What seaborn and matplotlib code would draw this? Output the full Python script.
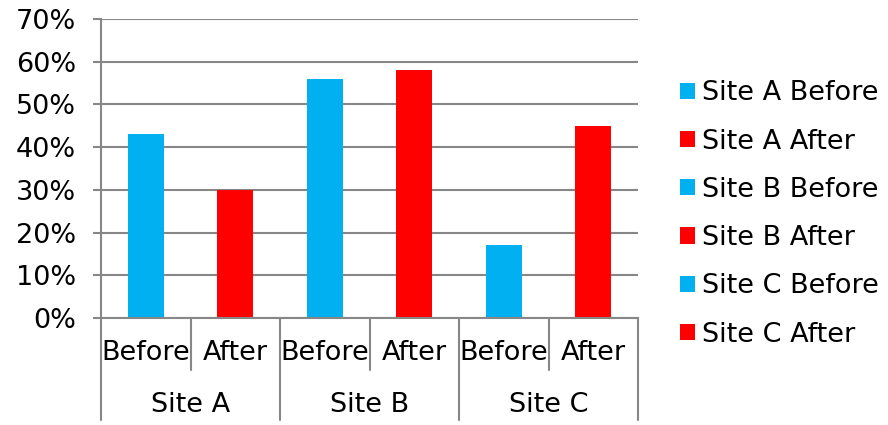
import numpy as np
import pandas as pd
import seaborn as sns
import matplotlib
matplotlib.use("Agg")
import matplotlib.pyplot as plt
import matplotlib.transforms as mtransforms
from matplotlib.ticker import PercentFormatter

sites = ["Site A", "Site B", "Site C"]
phases = ["Before", "After"]
values = [0.43, 0.30, 0.56, 0.58, 0.17, 0.45]
series_labels = [f"{s} {p}" for s in sites for p in phases]
phase_colors = {"Before": "#00B0F0", "After": "#FF0000"}
y_ticks = [0.0, 0.1, 0.2, 0.3, 0.4, 0.5, 0.6, 0.7]

sns.set_style("white")
plt.rcParams["font.family"] = ["DejaVu Sans"]
plt.rcParams["text.color"] = "black"
FS = 19.5
GREY = "#878787"

data = pd.DataFrame({
    "label": series_labels,
    "value": values,
    "phase": [p for s in sites for p in phases],
})
palette = {lab: phase_colors[ph] for lab, ph in zip(data["label"], data["phase"])}

fig = plt.figure(figsize=(8.88, 4.25), dpi=100)
ax = fig.add_axes([101 / 888, 1 - 318 / 425, 537 / 888, 299 / 425])

sns.barplot(data=data, x="label", y="value", hue="label", order=series_labels,
            hue_order=series_labels, palette=palette, dodge=False, width=0.4,
            saturation=1, linewidth=0, ax=ax, legend=True)

ax.set_ylim(0, 0.7)
ax.set_xlim(-0.5, len(series_labels) - 0.5)
ax.set_yticks(y_ticks)
ax.yaxis.set_major_formatter(PercentFormatter(1.0, decimals=0))
ax.grid(axis="y", color=GREY, linewidth=1.5)
ax.set_axisbelow(True)
ax.set_xlabel("")
ax.set_ylabel("")
ax.set_xticks([])
ax.tick_params(axis="y", length=6, width=1.5, color=GREY, labelsize=FS, pad=12,
               left=True, labelcolor="black")
for side in ["top", "right"]:
    ax.spines[side].set_visible(False)
for side in ["left", "bottom"]:
    ax.spines[side].set_color(GREY)
    ax.spines[side].set_linewidth(1.5)

# multi-level category axis
trans = mtransforms.blended_transform_factory(ax.transData, ax.transAxes)
n = len(series_labels)
for i, lab in enumerate(series_labels):
    ax.text(i, -0.117, lab.split(" ")[-1], transform=trans, ha="center", va="center",
            fontsize=FS, color="black")
for j, s in enumerate(sites):
    ax.text(j * 2 + 0.5, -0.291, s, transform=trans, ha="center", va="center",
            fontsize=FS, color="black")
for k in range(n + 1):
    bottom = -0.341 if k % 2 == 0 else -0.174
    ax.plot([k - 0.5, k - 0.5], [0, bottom], transform=trans, color=GREY,
            linewidth=1.5, clip_on=False)

handles, labels = ax.get_legend_handles_labels()
ax.legend_.remove()
leg = fig.legend(handles, labels, loc="center left", bbox_to_anchor=(669 / 888, 1 - 214 / 425),
                 frameon=False, fontsize=FS, handlelength=0.55, handleheight=0.55,
                 handletextpad=0.25, labelspacing=0.82, borderaxespad=0)
for t in leg.get_texts():
    t.set_color("black")

fig.savefig("out.png", dpi=100)
